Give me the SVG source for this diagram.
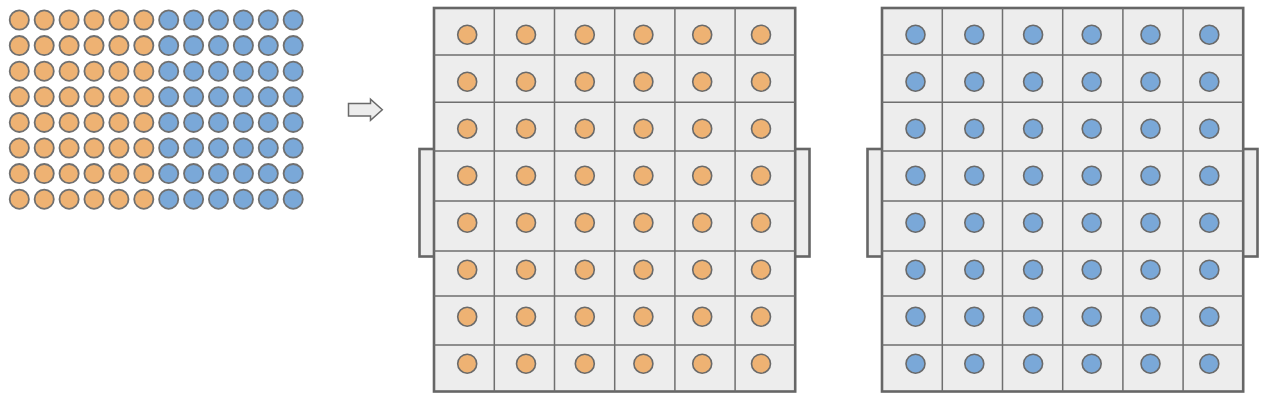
<svg xmlns="http://www.w3.org/2000/svg" width="1266" height="402" viewBox="0 0 1266 402">
<style>
.o{fill:#EEB273;stroke:#6a6a6a;stroke-width:1.6}
.b{fill:#7AA8D8;stroke:#6a6a6a;stroke-width:1.6}
.so{fill:#EEB273;stroke:#707070;stroke-width:1.8}
.sb{fill:#7AA8D8;stroke:#707070;stroke-width:1.8}
.frame{fill:#EDEDED;stroke:#666;stroke-width:2.6}
.tab{fill:#EDEDED;stroke:#666;stroke-width:2.6}
.grid{stroke:#6f6f6f;stroke-width:1.5;fill:none}
</style>
<defs>
<g id="srowO"><circle class="so" cx="19.3" cy="0" r="9.6"/><circle class="so" cx="44.2" cy="0" r="9.6"/><circle class="so" cx="69.1" cy="0" r="9.6"/><circle class="so" cx="94" cy="0" r="9.6"/><circle class="so" cx="118.9" cy="0" r="9.6"/><circle class="so" cx="143.8" cy="0" r="9.6"/></g>
<g id="srowB"><circle class="sb" cx="168.7" cy="0" r="9.6"/><circle class="sb" cx="193.6" cy="0" r="9.6"/><circle class="sb" cx="218.5" cy="0" r="9.6"/><circle class="sb" cx="243.4" cy="0" r="9.6"/><circle class="sb" cx="268.3" cy="0" r="9.6"/><circle class="sb" cx="293.2" cy="0" r="9.6"/></g>
<g id="gridlines">
<path class="grid" d="M60.3 0V383.5M120.5 0V383.5M180.7 0V383.5M240.9 0V383.5M301.1 0V383.5M0 47H361.2M0 94.3H361.2M0 143H361.2M0 193H361.2M0 243H361.2M0 288H361.2M0 337H361.2"/>
</g>
<g id="bcol"><circle cx="0" cy="34.7" r="9.5"/><circle cx="0" cy="81.7" r="9.5"/><circle cx="0" cy="128.7" r="9.5"/><circle cx="0" cy="175.7" r="9.5"/><circle cx="0" cy="222.7" r="9.5"/><circle cx="0" cy="269.7" r="9.5"/><circle cx="0" cy="316.7" r="9.5"/><circle cx="0" cy="363.7" r="9.5"/></g>
</defs>

<g id="source-grid">
<use href="#srowO" y="20"/><use href="#srowB" y="20"/>
<use href="#srowO" y="45.6"/><use href="#srowB" y="45.6"/>
<use href="#srowO" y="71.2"/><use href="#srowB" y="71.2"/>
<use href="#srowO" y="96.8"/><use href="#srowB" y="96.8"/>
<use href="#srowO" y="122.4"/><use href="#srowB" y="122.4"/>
<use href="#srowO" y="148"/><use href="#srowB" y="148"/>
<use href="#srowO" y="173.6"/><use href="#srowB" y="173.6"/>
<use href="#srowO" y="199.2"/><use href="#srowB" y="199.2"/>
</g>

<g id="connectors">
<path d="M348.5 103.5H370.5V99.2L382.3 109.8L370.5 120.4V116H348.5Z" fill="#EDEDED" stroke="#6a6a6a" stroke-width="1.5" stroke-linejoin="miter"/>
</g>

<g id="plate-orange">
<rect class="tab" x="419.5" y="149" width="15" height="107.5"/>
<rect class="tab" x="794.5" y="149" width="15" height="107.5"/>
<rect class="frame" x="434" y="8" width="361.2" height="383.5"/>
<use href="#gridlines" x="434" y="8"/>
<g class="o">
<use href="#bcol" x="467.2"/><use href="#bcol" x="526"/><use href="#bcol" x="584.8"/><use href="#bcol" x="643.4"/><use href="#bcol" x="702.2"/><use href="#bcol" x="761"/>
</g>
</g>

<g id="plate-blue">
<rect class="tab" x="867.5" y="149" width="15" height="107.5"/>
<rect class="tab" x="1242.5" y="149" width="15" height="107.5"/>
<rect class="frame" x="882" y="8" width="361.2" height="383.5"/>
<use href="#gridlines" x="882" y="8"/>
<g class="b">
<use href="#bcol" x="915.5"/><use href="#bcol" x="974.3"/><use href="#bcol" x="1033.1"/><use href="#bcol" x="1091.7"/><use href="#bcol" x="1150.5"/><use href="#bcol" x="1209.3"/>
</g>
</g>
</svg>
